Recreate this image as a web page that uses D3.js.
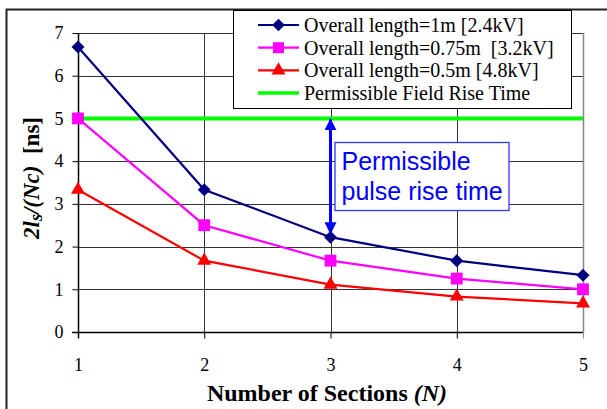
<!DOCTYPE html>
<html lang="en">
<head>
    <meta charset="UTF-8">
    <title>Rise time vs number of sections</title>
    <script src="https://d3js.org/d3.v7.min.js"></script>
    <style>
        body { margin: 0; background: #fff; }
        svg { display: block; }
        .serif { font-family: "Liberation Serif", "Times New Roman", serif; }
        .sans { font-family: "Liberation Sans", Arial, sans-serif; }
        .axis text { font-family: "Liberation Serif", "Times New Roman", serif; font-size: 18px; }
    </style>
</head>
<body>
    <div id="chart"></div>

    <script>
        // Data
        const sections = [1, 2, 3, 4, 5];
        const len1m = [6.67, 3.33, 2.22, 1.67, 1.33];
        const len075m = [5.0, 2.5, 1.67, 1.25, 1.0];
        const len05m = [3.33, 1.67, 1.11, 0.83, 0.67];
        const permissible = 5;
        const yTicks = [0, 1, 2, 3, 4, 5, 6, 7];

        const seriesNames = [
            "Overall length=1m [2.4kV]",
            "Overall length=0.75m\u00a0 [3.2kV]",
            "Overall length=0.5m [4.8kV]",
            "Permissible Field Rise Time"
        ];

        const width = 607;
        const height = 409;
        const margin = { top: 33, right: 24, bottom: 77, left: 78 };

        const svg = d3.select("#chart").append("svg")
            .attr("width", width)
            .attr("height", height);

        // outer frame (runs off the right and bottom edge like the original)
        svg.append("rect")
            .attr("x", 6.5).attr("y", 9.5)
            .attr("width", 620).attr("height", 420)
            .attr("fill", "none")
            .attr("stroke", "#222")
            .attr("stroke-width", 2);

        const x = d3.scaleLinear().domain([1, 5]).range([margin.left, width - margin.right]);
        const y = d3.scaleLinear().domain([0, 7]).range([height - margin.bottom, margin.top]);

        // grid
        const grid = svg.append("g");
        grid.selectAll(".hg").data(yTicks.slice(1)).join("line")
            .attr("x1", x(1)).attr("x2", x(5))
            .attr("y1", d => Math.round(y(d)) + 0.5).attr("y2", d => Math.round(y(d)) + 0.5)
            .attr("stroke", "#333").attr("stroke-width", 1);
        grid.selectAll(".vg").data(sections.slice(1)).join("line")
            .attr("x1", d => Math.round(x(d)) + 0.5).attr("x2", d => Math.round(x(d)) + 0.5)
            .attr("y1", y(7)).attr("y2", y(0))
            .attr("stroke", d => d === 5 ? "#888" : "#333").attr("stroke-width", d => d === 5 ? 1.5 : 1);

        // axes
        const yAxis = svg.append("g")
            .attr("transform", `translate(${Math.round(x(1)) + 0.5},0)`)
            .call(d3.axisLeft(y).tickValues(yTicks).tickSize(6).tickPadding(9).tickFormat(d3.format("d")));
        const xAxis = svg.append("g")
            .attr("transform", `translate(0,${Math.round(y(0)) + 0.5})`)
            .call(d3.axisBottom(x).tickValues(sections).tickSize(6).tickPadding(20).tickFormat(d3.format("d")));

        [yAxis, xAxis].forEach(a => {
            a.attr("class", "axis")
                .attr("font-family", "Liberation Serif")
                .attr("font-size", 18);
            a.select(".domain").remove();
            a.selectAll(".tick line").attr("stroke", "#000");
            a.selectAll(".tick text").attr("fill", "#000");
        });
        xAxis.selectAll(".tick").filter(d => d === 5).select("line").attr("stroke", "#888");
        svg.append("line")
            .attr("x1", Math.round(x(1)) + 0.5).attr("x2", Math.round(x(1)) + 0.5)
            .attr("y1", y(7)).attr("y2", y(0) + 6)
            .attr("stroke", "#000").attr("stroke-width", 1.5);
        svg.append("line")
            .attr("x1", x(1) - 6).attr("x2", x(5))
            .attr("y1", Math.round(y(0)) + 0.5).attr("y2", Math.round(y(0)) + 0.5)
            .attr("stroke", "#000").attr("stroke-width", 1.5);

        // permissible line
        svg.append("line")
            .attr("x1", x(1)).attr("x2", x(5))
            .attr("y1", y(permissible)).attr("y2", y(permissible))
            .attr("stroke", "#00ff00").attr("stroke-width", 4);

        // diamond = square turned 45 degrees
        const series = [
            { values: len1m, color: "#000080", shape: d3.symbolSquare, size: 85, rot: 45 },
            { values: len075m, color: "#ff00ff", shape: d3.symbolSquare, size: 140, rot: 0 },
            { values: len05m, color: "#ff0000", shape: d3.symbolTriangle, size: 85, rot: 0 }
        ];

        const line = d3.line().x((d, i) => x(sections[i])).y(d => y(d));

        series.forEach(s => {
            svg.append("path")
                .datum(s.values)
                .attr("d", line)
                .attr("fill", "none")
                .attr("stroke", s.color)
                .attr("stroke-width", 2.2);
            svg.append("g").selectAll("path").data(s.values).join("path")
                .attr("transform", (d, i) => `translate(${x(sections[i])},${y(d)}) rotate(${s.rot})`)
                .attr("d", d3.symbol().type(s.shape).size(s.size))
                .attr("fill", s.color);
        });

        // annotation arrow between permissible line and 1m curve at N=3
        const defs = svg.append("defs");
        defs.append("marker")
            .attr("id", "ah")
            .attr("viewBox", "0 0 10 10")
            .attr("refX", 9).attr("refY", 5)
            .attr("markerWidth", 12).attr("markerHeight", 12)
            .attr("markerUnits", "userSpaceOnUse")
            .attr("orient", "auto-start-reverse")
            .append("path").attr("d", "M0,0 L10,5 L0,10 z").attr("fill", "#0000ff");

        svg.append("line")
            .attr("x1", x(3)).attr("x2", x(3))
            .attr("y1", y(permissible) + 1).attr("y2", y(len1m[2]) - 4)
            .attr("stroke", "#0000ff").attr("stroke-width", 3)
            .attr("marker-start", "url(#ah)")
            .attr("marker-end", "url(#ah)");

        const note = svg.append("g").attr("transform", `translate(${x(3) + 4},142)`);
        note.append("rect")
            .attr("x", 0.5).attr("y", 0.5)
            .attr("width", 174).attr("height", 68)
            .attr("fill", "#fff")
            .attr("stroke", "#3333ff").attr("stroke-width", 1.3);
        note.selectAll("text").data(["Permissible", "pulse rise time"]).join("text")
            .attr("class", "sans")
            .attr("x", 7)
            .attr("y", (d, i) => 28 + i * 29.5)
            .style("font-size", "25px")
            .attr("fill", "#0000ff")
            .text(d => d);

        // legend
        const legend = svg.append("g").attr("transform", "translate(233,10)");
        legend.append("rect")
            .attr("x", 0.5).attr("y", 0.5)
            .attr("width", 338).attr("height", 98)
            .attr("fill", "#fff").attr("stroke", "#000").attr("stroke-width", 1);

        const legendItems = [
            { label: seriesNames[0], color: "#000080", shape: d3.symbolSquare, size: 80, rot: 45 },
            { label: seriesNames[1], color: "#ff00ff", shape: d3.symbolSquare, size: 120, rot: 0 },
            { label: seriesNames[2], color: "#ff0000", shape: d3.symbolTriangle, size: 85, rot: 0 },
            { label: seriesNames[3], color: "#00ff00", shape: null }
        ];

        const entry = legend.selectAll(".entry").data(legendItems).join("g")
            .attr("transform", (d, i) => `translate(0,${15 + i * 22.7})`);
        entry.append("line")
            .attr("x1", 25).attr("x2", 66)
            .attr("stroke", d => d.color)
            .attr("stroke-width", d => d.shape ? 2.2 : 3.5);
        entry.filter(d => d.shape).append("path")
            .attr("transform", d => `translate(45.5,0) rotate(${d.rot})`)
            .attr("d", d => d3.symbol().type(d.shape).size(d.size)())
            .attr("fill", d => d.color);
        entry.append("text")
            .attr("class", "serif")
            .attr("x", 71).attr("y", 7)
            .style("font-size", "20px")
            .attr("fill", "#000")
            .text(d => d.label);

        // axis titles
        const xTitle = svg.append("text")
            .attr("class", "serif")
            .attr("x", 327).attr("y", 401)
            .attr("text-anchor", "middle")
            .style("font-size", "24px")
            .attr("font-weight", "bold");
        xTitle.append("tspan").text("Number of Sections ");
        xTitle.append("tspan").attr("font-style", "italic").text("(N)");

        const yTitle = svg.append("text")
            .attr("class", "serif")
            .attr("transform", "translate(39,178) rotate(-90)")
            .attr("text-anchor", "middle")
            .style("font-size", "23px")
            .attr("font-weight", "bold");
        yTitle.append("tspan").attr("font-style", "italic").text("2l");
        yTitle.append("tspan").attr("font-style", "italic").style("font-size", "18px").attr("dy", 3).text("s");
        yTitle.append("tspan").attr("font-style", "italic").attr("dy", -3).text("/(Nc)");
        yTitle.append("tspan").text("\u00a0 [ns]");
    </script>
</body>
</html>
